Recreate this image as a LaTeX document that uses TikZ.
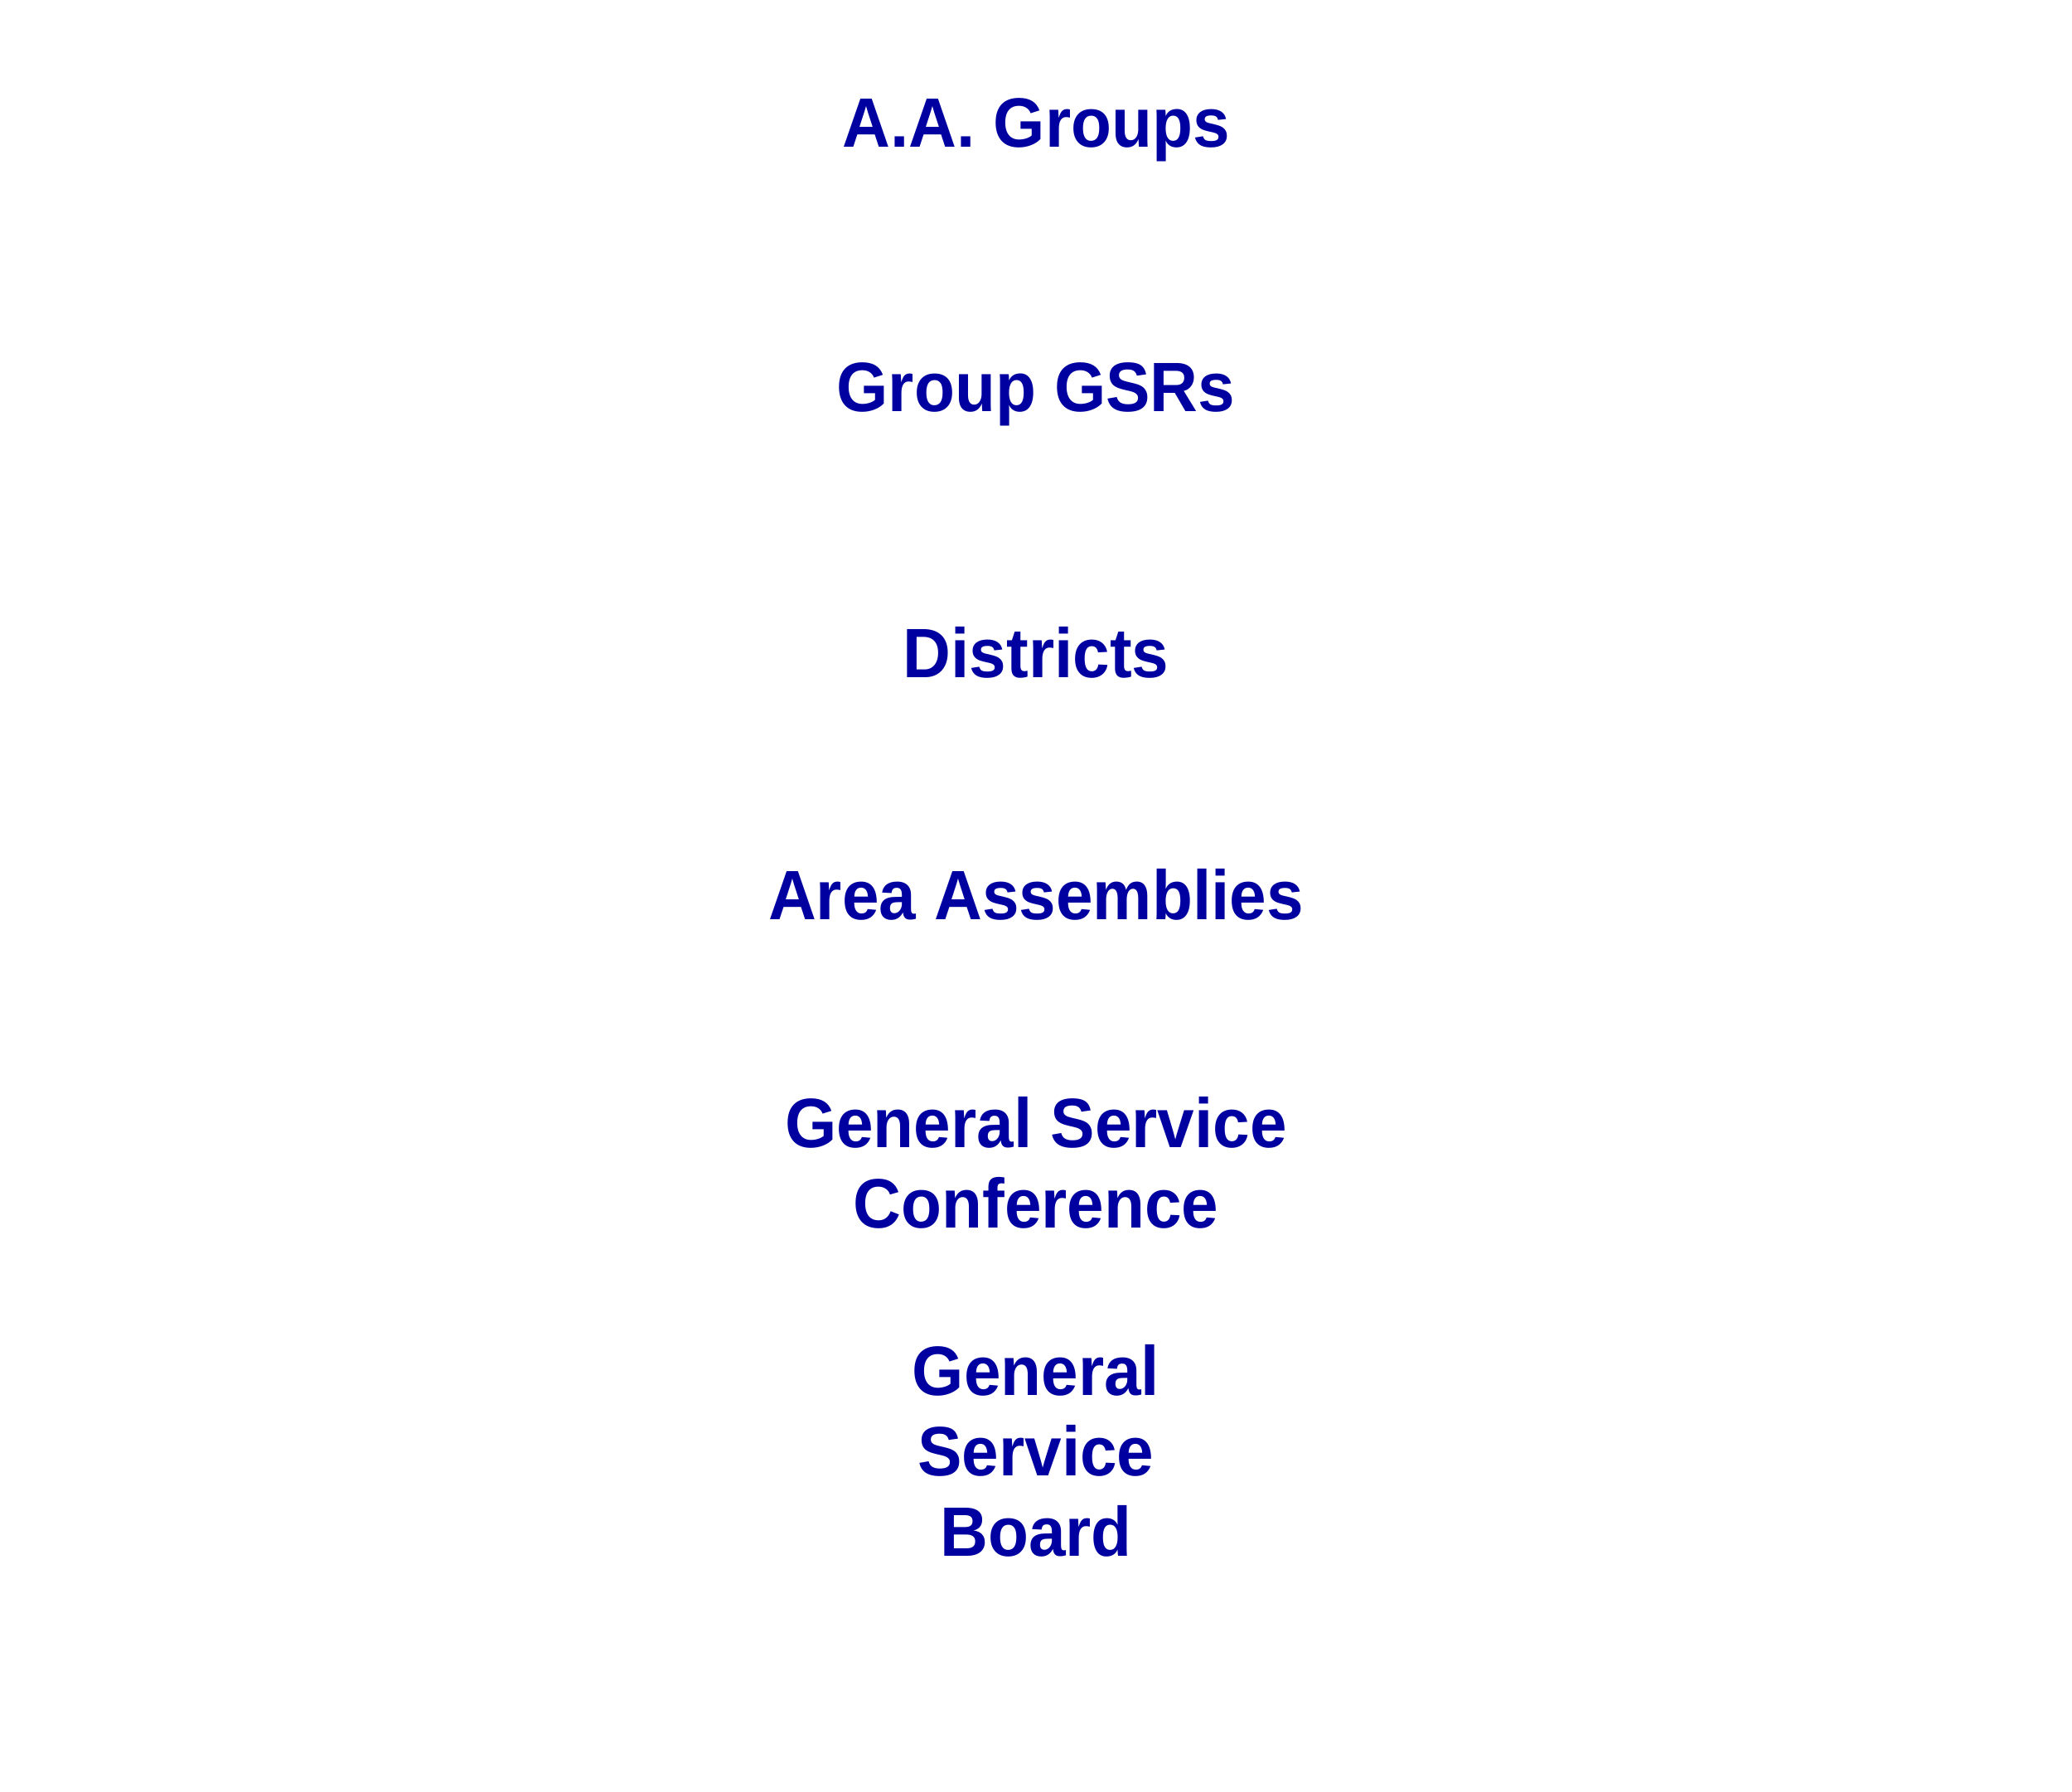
\documentclass[tikz,border=0pt]{standalone}
\usepackage{fontspec}
\setmainfont{Liberation Sans}[FakeStretch=0.95]
\usepackage{xcolor}
\usepackage{tikz}
\usetikzlibrary{positioning}
\definecolor{aablue}{RGB}{0,0,160}
\tikzset{
  tier/.style={align=center, inner sep=0pt, anchor=base, text=aablue, font=\bfseries\fontsize{24}{27.6}\selectfont}
}

\begin{document}
\begin{tikzpicture}
\useasboundingbox (0,0) rectangle (25,-21.61);
% base anchor sits on the last line of each node
\node[tier] (groups) at (12.5,-1.77) {A.A. Groups};
\node[tier] (gsrs) at (12.5,-4.96) {Group GSRs};
\node[tier] (districts) at (12.5,-8.17) {Districts};
\node[tier] (assemblies) at (12.5,-11.09) {Area Assemblies};
\node[tier] (conference) at (12.5,-14.815) {General Service\\Conference};
\node[tier] (board) at (12.5,-18.77) {General\\Service\\Board};
\end{tikzpicture}
\end{document}
